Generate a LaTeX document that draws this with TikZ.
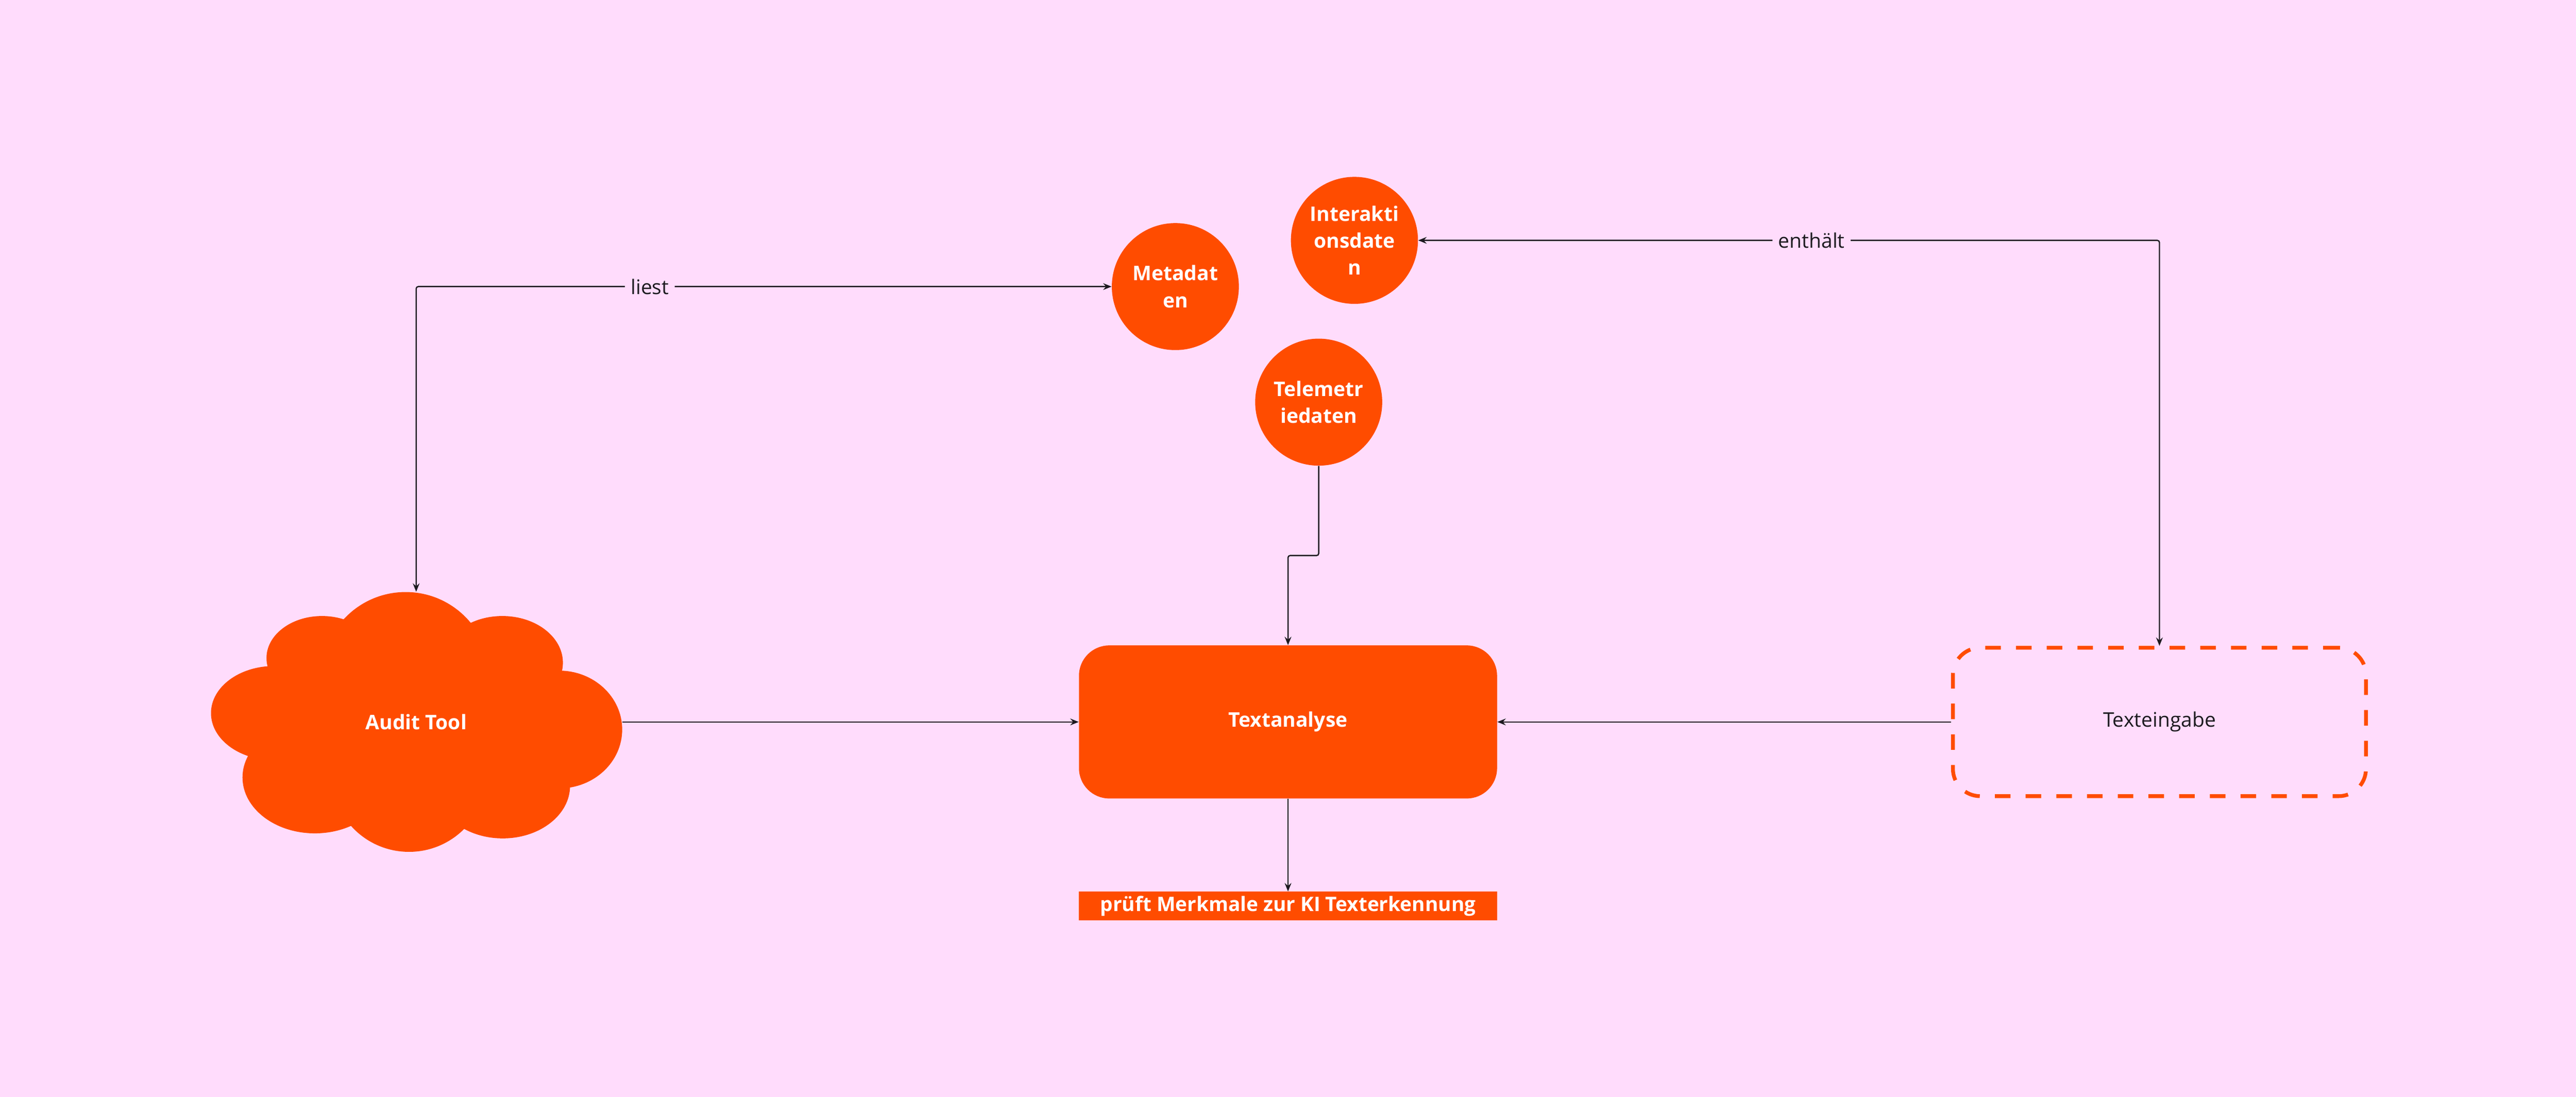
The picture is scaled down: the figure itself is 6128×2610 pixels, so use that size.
\documentclass[tikz,border=0pt]{standalone}
\usepackage{fontspec}
\setmainfont{Open Sans}
\usetikzlibrary{arrows.meta}
\definecolor{bgpink}{HTML}{FFDCFC}
\definecolor{orng}{HTML}{FF4C00}
\definecolor{ink}{HTML}{1C1A1F}
\tikzset{
  nodefont/.style={font=\fontsize{13.6pt}{18.2pt}\selectfont\bfseries, text=white},
  datacircle/.style={circle, fill=orng, minimum size=3.02cm, inner sep=0pt, align=center, nodefont},
  anabox/.style={rectangle, rounded corners=0.72cm, fill=orng, minimum width=9.94cm, minimum height=3.64cm, nodefont},
  inbox/.style={rectangle, rounded corners=0.65cm, draw=orng, line width=0.09cm, dash pattern=on 0.37cm off 0.36cm, minimum width=9.82cm, minimum height=3.53cm, font=\fontsize{13.6pt}{18.2pt}\selectfont, text=ink},
  tagbox/.style={rectangle, fill=orng, minimum width=9.94cm, minimum height=0.68cm, inner sep=0pt, font=\fontsize{13.5pt}{16pt}\selectfont\bfseries, text=white},
  cloudarea/.style={rectangle, minimum width=9.78cm, minimum height=6.18cm, inner sep=0pt, nodefont},
  lobe/.style={fill=orng},
  conn/.style={draw=ink, line width=0.03cm, rounded corners=0.05cm},
  arrowend/.style={-{Stealth[length=0.2cm,width=0.16cm,inset=0.07cm]}},
  arrowboth/.style={{Stealth[length=0.2cm,width=0.16cm,inset=0.07cm]}-{Stealth[length=0.2cm,width=0.16cm,inset=0.07cm]}},
  lbl/.style={fill=bgpink, inner xsep=0.14cm, inner ysep=0.05cm, font=\fontsize{13.6pt}{18.2pt}\selectfont, text=ink},
}
\begin{document}
\begin{tikzpicture}[x=0.01cm,y=-0.01cm]
  \fill[bgpink] (0,0) rectangle (6128,2610);
  \useasboundingbox (0,0) rectangle (6128,2610);

  % cloud lobes
  \fill[lobe] (965,1609) circle[radius=2cm];
  \fill[lobe] (766,1566) ellipse[x radius=1.32cm, y radius=1cm];
  \fill[lobe] (1195,1577) ellipse[x radius=1.44cm, y radius=1.11cm];
  \fill[lobe] (1330,1736) ellipse[x radius=1.5cm, y radius=1.4cm];
  \fill[lobe] (652,1697) ellipse[x radius=1.5cm, y radius=1.12cm];
  \fill[lobe] (749,1850) ellipse[x radius=1.72cm, y radius=1.33cm];
  \fill[lobe] (973,1842) circle[radius=1.85cm];
  \fill[lobe] (1196,1870) ellipse[x radius=1.6cm, y radius=1.25cm];
  \fill[lobe] (990,1718) ellipse[x radius=3.8cm, y radius=2.4cm];

  \node[cloudarea] (audit) at (990,1718) {Audit Tool};
  \node[datacircle] (meta) at (2796,682) {Metadat\\en};
  \node[datacircle] (inter) at (3222,572) {Interakti\\onsdate\\n};
  \node[datacircle] (tele) at (3137,957) {Telemetr\\iedaten};
  \node[anabox] (ana) at (3064,1718) {Textanalyse};
  \node[inbox] (texte) at (5137,1718) {Texteingabe};
  \node[tagbox] (chk) at (3064,2156) {prüft Merkmale zur KI Texterkennung};
  \coordinate (bend) at (3137,1322);

  \draw[conn, arrowboth] (audit.north) |- node[lbl, pos=0.668] {liest} (meta.west);
  \draw[conn, arrowboth] (texte.north) |- node[lbl, pos=0.7347] {enthält} (inter.east);
  \draw[conn, arrowend] (tele.south) -- (bend) -| (ana.north);
  \draw[conn, arrowend] (audit.east) -- (ana.west);
  \draw[conn, arrowend] (texte.west) -- (ana.east);
  \draw[conn, arrowend] (ana.south) -- (chk.north);
\end{tikzpicture}
\end{document}
